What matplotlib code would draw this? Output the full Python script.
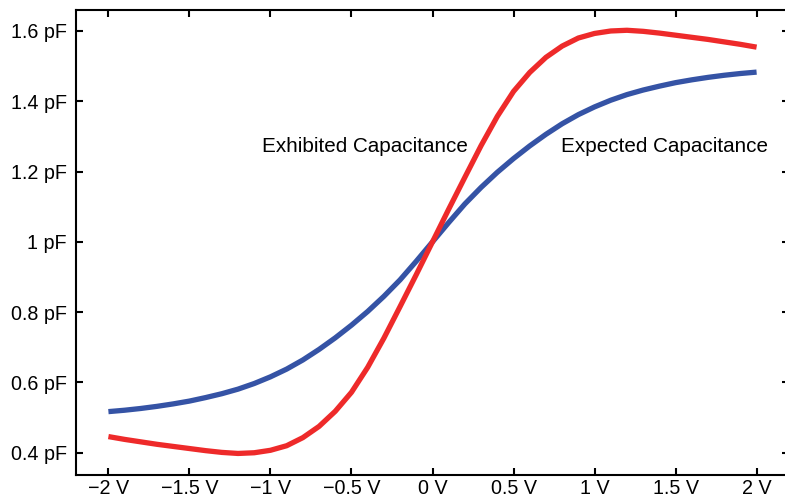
import matplotlib
matplotlib.use("Agg")
import matplotlib.pyplot as plt
from matplotlib.ticker import FuncFormatter

plt.rcParams['font.family'] = ['Liberation Sans', 'DejaVu Sans']

# bias voltage (V), -2 .. 2 in 0.1 steps
volts = [-2.0, -1.9, -1.8, -1.7, -1.6, -1.5, -1.4, -1.3, -1.2, -1.1,
         -1.0, -0.9, -0.8, -0.7, -0.6, -0.5, -0.4, -0.3, -0.2, -0.1,
         0.0, 0.1, 0.2, 0.3, 0.4, 0.5, 0.6, 0.7, 0.8, 0.9,
         1.0, 1.1, 1.2, 1.3, 1.4, 1.5, 1.6, 1.7, 1.8, 1.9, 2.0]

# capacitance (pF)
expected = [0.517, 0.521, 0.526, 0.532, 0.539, 0.547, 0.557, 0.568, 0.581, 0.597,
            0.616, 0.638, 0.664, 0.694, 0.727, 0.763, 0.802, 0.845, 0.892, 0.945,
            1.000, 1.055, 1.108, 1.155, 1.198, 1.237, 1.273, 1.306, 1.336, 1.362,
            1.384, 1.403, 1.419, 1.432, 1.443, 1.453, 1.461, 1.468, 1.474, 1.479, 1.483]
exhibited = [0.446, 0.438, 0.431, 0.424, 0.418, 0.412, 0.406, 0.401, 0.398, 0.400,
             0.407, 0.420, 0.443, 0.475, 0.518, 0.572, 0.643, 0.726, 0.816, 0.907,
             1.000, 1.093, 1.184, 1.274, 1.357, 1.428, 1.482, 1.525, 1.557, 1.580,
             1.593, 1.600, 1.602, 1.599, 1.594, 1.588, 1.582, 1.576, 1.569, 1.562, 1.554]

x_ticks = [-2, -1.5, -1, -0.5, 0, 0.5, 1, 1.5, 2]
y_ticks = [0.4, 0.6, 0.8, 1.0, 1.2, 1.4, 1.6]


def fmt(v, unit):
    s = ('%g' % v).replace('-', '\u2212')
    return s + ' ' + unit


fig = plt.figure(figsize=(7.85, 4.98), dpi=100)
ax = fig.add_axes([76 / 785, 23 / 498, 713 / 785, 465 / 498])

ax.plot(volts, expected, color='#3553A5', lw=3.8, solid_capstyle='butt')
ax.plot(volts, exhibited, color='#EE2A2A', lw=3.8, solid_capstyle='butt')

ax.text(-0.418, 1.272, 'Exhibited Capacitance', fontsize=14.9, ha='center', va='center')
ax.text(1.433, 1.272, 'Expected Capacitance', fontsize=14.9, ha='center', va='center')

ax.set_xlim(-2.2, 2.2)
ax.set_ylim(0.3367, 1.6597)
ax.set_xticks(x_ticks)
ax.set_yticks(y_ticks)
ax.xaxis.set_major_formatter(FuncFormatter(lambda v, p: fmt(v, 'V')))
ax.yaxis.set_major_formatter(FuncFormatter(lambda v, p: fmt(v, 'pF')))

for s in ax.spines.values():
    s.set_linewidth(1.5)
ax.tick_params(direction='in', length=5, width=1.5, top=True, right=True,
               labelsize=14.2)
ax.tick_params(axis='x', pad=3)
ax.tick_params(axis='y', pad=6.5)

fig.savefig('out.png', dpi=100)
